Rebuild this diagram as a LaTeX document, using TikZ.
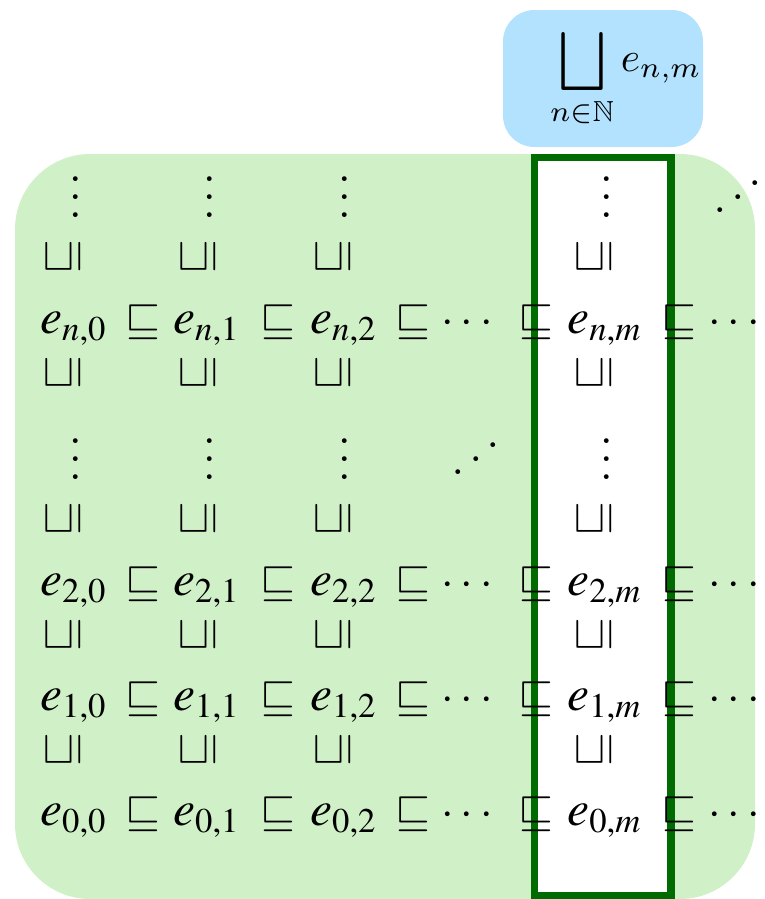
\documentclass[tikz,border=0pt]{standalone}
\usepackage{amsmath,amssymb}
\newcommand{\tmi}{\usefont{OT1}{ptm}{m}{it}}
\newcommand{\tmr}{\usefont{OT1}{ptm}{m}{n}}
\newcommand{\elt}[2]{{\fontsize{11}{13}\selectfont$\text{\tmi e}_{\text{\tmr #1,#2}}$}}
\definecolor{boxgreen}{RGB}{208,241,199}
\definecolor{boxblue}{RGB}{179,226,254}
\definecolor{colgreen}{RGB}{0,107,0}

\begin{document}
\begin{tikzpicture}[x=0.2222pt,y=-0.2222pt,
  ent/.style={anchor=base,inner sep=0pt},
  dots/.style={anchor=base,inner sep=0pt,text height=9pt,text depth=0pt},
  rot/.style={rotate=90,inner sep=0pt}]
\useasboundingbox (0,0) rectangle (764,899);
%Shape: Rounded Rectangle [chain of chains]
\fill [boxgreen, rounded corners=16.7pt] (15,154) rectangle (755,899);
%Shape: Rounded Rectangle [join of column m]
\fill [boxblue, rounded corners=7pt] (503,10) rectangle (703,147);
%Shape: Rectangle [column m]
\draw [colgreen, line width=1.7pt, fill=white] (534.5,157.5) rectangle (671,896);
% Text Node
\draw (626,78) node (join) [scale=0.92, inner sep=0pt] {$\displaystyle\bigsqcup_{n\in\mathbb{N}} e_{n,m}$};
% Rows
\foreach \r/\s/\y in {n/\textit{n}/333, 2/2/595, 1/1/710, 0/0/825} {
  \draw (74,\y) node (e\r-0) [ent] {\elt{\s}{0}};
  \draw (143,\y) node (s\r-0) [ent] {$\sqsubseteq$};
  \draw (207,\y) node (e\r-1) [ent] {\elt{\s}{1}};
  \draw (278,\y) node (s\r-1) [ent] {$\sqsubseteq$};
  \draw (344,\y) node (e\r-2) [ent] {\elt{\s}{2}};
  \draw (413,\y) node (s\r-2) [ent] {$\sqsubseteq$};
  \draw (471,\y) node (c\r) [ent] {$\cdots$};
  \draw (536,\y) node (s\r-3) [ent] {$\sqsubseteq$};
  \draw (605,\y) node (e\r-m) [ent] {\elt{\s}{\textit{m}}};
  \draw (679,\y) node (s\r-4) [ent] {$\sqsubseteq$};
  \draw (738,\y) node (d\r) [ent] {$\cdots$};
}
% Columns
\foreach \x/\c in {63/0, 198/1, 333/2, 594/m}
  \foreach \y/\k in {257/a, 373/b, 519/c, 635/d, 750/e}
    \draw (\x,\y) node (v\c\k) [rot] {$\sqsubseteq$};
\foreach \x/\c in {76/0, 210/1, 345/2, 607/m}
  \foreach \y/\k in {217/a, 479/b}
    \draw (\x,\y) node (vd\c\k) [dots] {$\vdots$};
% Text Node
\draw (476,479) node (dd1) [dots] {\reflectbox{$\ddots$}};
% Text Node
\draw (738,217) node (dd2) [dots] {\reflectbox{$\ddots$}};
\end{tikzpicture}
\end{document}
